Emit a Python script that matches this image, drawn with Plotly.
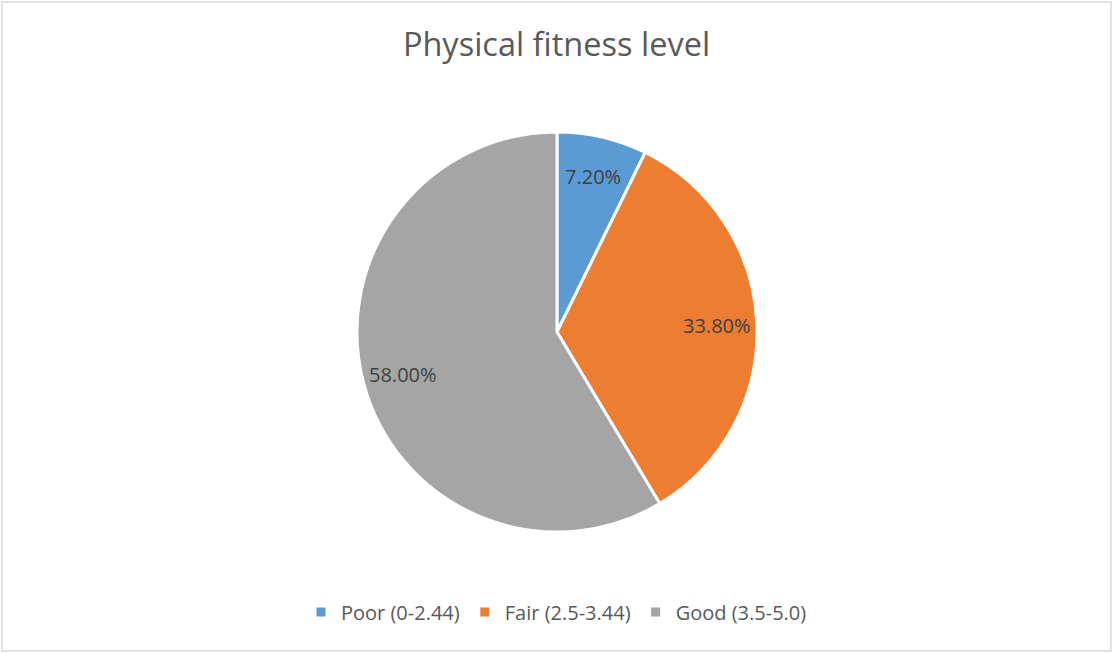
import math
import plotly.graph_objects as go

categories = ["Poor (0-2.44)", "Fair (2.5-3.44)", "Good (3.5-5.0)"]
values = [7.20, 33.80, 58.00]
colors = ["#5B9BD5", "#ED7D31", "#A5A5A5"]

W, H = 1113, 653
cx, cy, r = 557, 332, 200

dom_x = [(cx - r) / W, (cx + r) / W]
dom_y = [1 - (cy + r) / H, 1 - (cy - r) / H]

fig = go.Figure(go.Pie(
    labels=categories,
    values=values,
    sort=False,
    direction="clockwise",
    rotation=0,
    marker=dict(colors=colors, line=dict(color="white", width=3)),
    textinfo="none",
    hoverinfo="label+percent",
    domain=dict(x=dom_x, y=dom_y),
))

# data labels placed along each slice's mid-angle, derived from the values
total = sum(values)
cum = 0.0
label_frac = 0.8
annotations = []
for v in values:
    mid = (cum + v / 2) / total * 2 * math.pi
    cum += v
    px = cx + label_frac * r * math.sin(mid)
    py = cy - label_frac * r * math.cos(mid)
    annotations.append(dict(
        x=px / W, y=1 - py / H, xref="paper", yref="paper",
        text=f"{v:.2f}%", showarrow=False, xanchor="center", yanchor="middle",
        font=dict(family="Open Sans", size=20, color="#404040"),
    ))

fig.update_layout(
    width=W, height=H,
    margin=dict(l=0, r=0, t=0, b=0),
    paper_bgcolor="white",
    title=dict(text="Physical fitness level", x=0.5, xanchor="center", y=1 - 45 / H, yanchor="middle",
               font=dict(family="Open Sans", size=32.5, color="#595959")),
    legend=dict(orientation="h", x=0.5, xanchor="center", y=1 - 612 / H, yanchor="middle",
                font=dict(family="Open Sans", size=20, color="#595959"), itemwidth=30),
    annotations=annotations,
    shapes=[dict(type="rect", xref="paper", yref="paper", x0=2 / W, x1=1 - 2 / W, y0=2 / H, y1=1 - 2 / H,
                 line=dict(color="#D9D9D9", width=1.5))],
)

fig.write_html("out.html", config={"displayModeBar": False},
               post_script="document.body.style.margin='0';document.body.style.overflow='hidden';")
